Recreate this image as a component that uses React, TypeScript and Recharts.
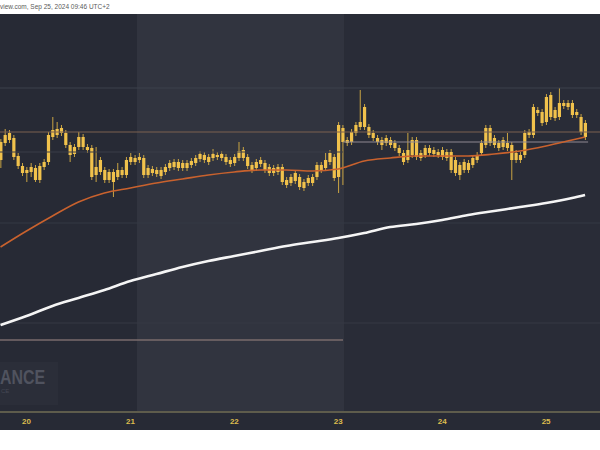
import React from 'react';
import { ComposedChart, Bar, Line, XAxis, YAxis, ReferenceArea, ReferenceLine } from 'recharts';

// Hourly candles (price units of the chart's own scale)
const openV = [290,307,317,312,294,284,277,283,270,270,283,288,313,315,322,317,305,296,313,313,303,302,275,290,280,278,268,273,275,275,293,288,293,292,275,281,280,274,278,282,288,288,287,282,285,287,296,295,288,296,295,296,293,286,287,292,300,293,280,282,290,287,283,277,283,283,265,267,277,273,262,267,267,273,280,282,297,272,273,322,307,308,317,323,343,323,317,312,305,312,310,307,302,288,290,310,310,292,295,302,300,298,300,298,298,290,275,288,280,285,290,297,305,322,312,302,310,307,305,297,290,295,315,315,340,327,328,355,332,333,347,347,347,338,333,327];
const closeV = [308,315,310,293,284,277,280,278,282,284,288,315,320,321,317,305,295,303,303,303,300,273,283,278,270,270,278,280,280,290,288,292,290,275,282,277,276,280,283,287,283,282,282,287,289,292,291,290,293,292,293,292,288,290,293,299,292,284,285,288,286,280,277,282,278,268,270,273,269,263,268,272,273,285,285,290,288,293,325,308,310,318,325,328,323,315,312,308,310,307,305,302,297,297,300,295,293,297,302,297,296,295,293,292,280,277,285,280,287,292,295,307,322,307,305,307,303,302,290,290,295,317,318,343,337,338,353,333,340,347,344,343,335,335,318,313];
const highV = [311,321,320,315,297,287,283,287,285,287,291,318,333,328,325,320,308,306,318,316,306,305,303,293,283,281,281,287,283,293,297,295,297,295,285,284,283,283,286,290,291,291,290,290,292,295,299,298,296,301,298,299,296,293,296,308,303,296,288,291,293,290,286,285,286,286,273,276,280,276,271,275,276,288,288,297,300,296,328,325,313,321,328,360,346,326,320,315,313,315,313,310,305,300,317,313,313,300,305,305,303,301,303,301,301,293,288,291,290,295,298,310,325,325,315,310,313,317,308,300,298,320,321,346,343,341,356,358,343,362,350,350,350,341,336,330];
const lowV = [282,304,307,290,281,274,268,273,268,267,280,285,310,312,314,302,288,293,300,300,297,270,268,275,267,267,253,270,272,272,285,285,287,272,272,274,273,271,275,279,280,279,279,279,282,284,288,287,285,289,290,289,285,283,284,289,289,281,277,279,283,277,274,274,275,265,262,264,266,260,259,264,264,270,277,279,285,269,257,265,304,305,314,320,320,312,309,305,300,304,302,299,294,285,287,292,290,289,292,294,293,292,290,289,277,274,270,277,277,282,287,294,302,304,302,299,300,299,270,287,287,292,312,312,334,324,325,330,329,330,341,340,332,332,315,310];

// Moving averages, read at every 6th candle
const maIndex = [0,6,12,18,24,30,36,42,48,54,60,66,72,78,84,90,96,102,108,114,120,126,132,135];
const maFast = [203,219,234,248,257,262,267,271,275,278,280,280,279,281,289,292,294,294,294,296,299,304,310,313];
const maSlow = [125,134,144,152,160,169,176,183,189,194,199,204,208,212,217,223,226,230,235,239,243,247,252,255];

// Day ticks
const dayTickIndex = [6, 30, 54, 78, 102, 126];
const dayLabels = ['20', '21', '22', '23', '24', '25'];

// Horizontal levels
const levelTop = 362;
const levelResist = 318;
const levelPale = 308;
const levelMid = 298;
const levelLow1 = 227;
const levelLow2 = 127;
const levelSupport = 110;

const X_MIN = -0.12;
const X_MAX = 138.45;
const Y_MIN = 38;
const Y_MAX = 436;

const rows = openV.map((o, i) => {
  const k = maIndex.indexOf(i);
  return {
    i,
    open: o,
    close: closeV[i],
    high: highV[i],
    low: lowV[i],
    fast: k >= 0 ? maFast[k] : null,
    slow: k >= 0 ? maSlow[k] : null,
  };
});

const BODY = '#f1c24c';
const WICK = '#c9a443';

const Candle = (props: any) => {
  const { x, y, width, height, payload } = props;
  if (!payload || payload.high == null) return null;
  const top = Math.min(y, y + height);
  const h = Math.abs(height);
  const span = payload.high - payload.low || 1;
  const toPx = (v: number) => top + ((payload.high - v) / span) * h;
  const cx = x + width / 2;
  const bTop = toPx(Math.max(payload.open, payload.close));
  const bBot = toPx(Math.min(payload.open, payload.close));
  return (
    <g>
      <line x1={cx} x2={cx} y1={top} y2={top + h} stroke={WICK} strokeWidth={1} />
      <rect x={cx - 1.6} y={bTop} width={3.2} height={Math.max(1, bBot - bTop)} fill={BODY} />
    </g>
  );
};

export default function App() {
  return (
    <div style={{ position: 'fixed', left: 0, top: 0, width: 600, height: 450, background: '#ffffff', overflow: 'hidden', fontFamily: 'Arial, "Liberation Sans", sans-serif' }}>
      <div style={{ position: 'absolute', top: 0, left: 0, width: 600, height: 14 }}>
        <span style={{ position: 'absolute', left: 0, top: 3, fontSize: 6.5, color: '#5a5a5a', whiteSpace: 'nowrap' }}>
          view.com, Sep 25, 2024 09:46 UTC+2
        </span>
      </div>
      <div style={{ position: 'absolute', top: 14, left: 0, width: 600, height: 416, background: '#272a35' }}>
        <div style={{ position: 'absolute', left: 0, top: 348, width: 58, height: 43, background: '#2b2e39' }} />
        <div style={{ position: 'absolute', left: 0, top: 351, fontSize: 21, fontWeight: 700, color: '#50535f', whiteSpace: 'nowrap', transform: 'scaleX(0.76)', transformOrigin: 'left top' }}>ANCE</div>
        <div style={{ position: 'absolute', left: 1, top: 374, fontSize: 6, color: '#454854', whiteSpace: 'nowrap' }}>CE</div>
        <div style={{ position: 'absolute', left: 0, top: 0 }}>
          <ComposedChart width={600} height={416} data={rows} margin={{ top: 0, right: 0, bottom: 0, left: 0 }}>
            <XAxis
              type="number"
              dataKey="i"
              domain={[X_MIN, X_MAX]}
              ticks={dayTickIndex}
              tickFormatter={(v: number) => dayLabels[dayTickIndex.indexOf(v)] ?? ''}
              height={18}
              axisLine={{ stroke: '#5e5c4c', strokeWidth: 2 }}
              tickLine={false}
              tickSize={4}
              tick={{ fill: '#dcbc4e', fontSize: 8, fontWeight: 700 }}
              allowDataOverflow
            />
            <YAxis hide domain={[Y_MIN, Y_MAX]} allowDataOverflow />
            <ReferenceArea x1={31.5} x2={79.4} y1={Y_MIN} y2={Y_MAX} fill="#31343f" fillOpacity={1} stroke="none" ifOverflow="hidden" />
            <ReferenceArea x1={79.4} x2={X_MAX} y1={Y_MIN} y2={Y_MAX} fill="#292c37" fillOpacity={1} stroke="none" ifOverflow="hidden" />
            <ReferenceLine y={levelTop} stroke="#3d404c" strokeWidth={1} />
            <ReferenceLine stroke="#3a3d49" strokeWidth={1} segment={[{ x: X_MIN, y: levelMid }, { x: 79.1, y: levelMid }]} />
            <ReferenceLine y={levelLow1} stroke="#353844" strokeWidth={1} />
            <ReferenceLine y={levelLow2} stroke="#363945" strokeWidth={1} />
            <ReferenceLine y={levelResist} stroke="#7d6151" strokeWidth={1.2} />
            <ReferenceLine stroke="#8f8791" strokeWidth={1.2} segment={[{ x: 79.1, y: levelPale }, { x: 135.7, y: levelPale }]} />
            <ReferenceLine stroke="#7a6b6d" strokeWidth={1.5} segment={[{ x: X_MIN, y: levelSupport }, { x: 79.1, y: levelSupport }]} />
            <Bar dataKey={(d: any) => [d.low, d.high]} barSize={3} shape={Candle} isAnimationActive={false} />
            <Line dataKey="fast" type="monotone" stroke="#c9622e" strokeWidth={1.6} dot={false} connectNulls isAnimationActive={false} />
            <Line dataKey="slow" type="monotone" stroke="#f5f5f5" strokeWidth={2.6} dot={false} connectNulls isAnimationActive={false} />
          </ComposedChart>
        </div>
      </div>
    </div>
  );
}
